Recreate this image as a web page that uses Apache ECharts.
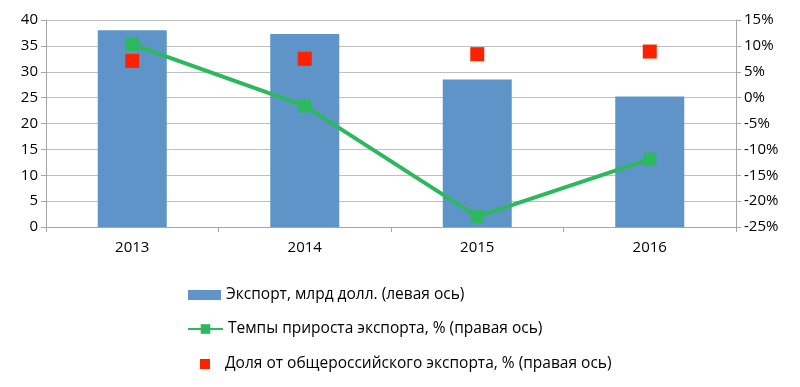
<!DOCTYPE html>
<html><head><meta charset="utf-8">
<script src="https://cdn.jsdelivr.net/npm/echarts@6/dist/echarts.min.js"></script>
<style>html,body{margin:0;padding:0;background:#fff}#c{width:800px;height:387px}</style>
</head><body><div id="c"></div>
<script>
var categories = ['2013', '2014', '2015', '2016'];
var exportValues = [38.0, 37.3, 28.5, 25.2];
var growthRates = [10.3, -1.6, -23.0, -11.9];
var shareValues = [7.1, 7.5, 8.4, 8.9];
var leftTicks = [0, 40, 5];
var rightTicks = [-25, 15, 5];
var names = ['Экспорт, млрд долл. (левая ось)', 'Темпы прироста экспорта, % (правая ось)', 'Доля от общероссийского экспорта, % (правая ось)'];

var font = 'Open Sans';
var chart = echarts.init(document.getElementById('c'));
var axisLine = {show: true, lineStyle: {color: '#a6a6a6', width: 1}};
var legendText = {fontFamily: font, fontSize: 15.5, color: '#000'};
chart.setOption({
  animation: false,
  grid: {left: 46, right: 64, top: 20, bottom: 160},
  legend: [
    {data: [names[0]], left: 188, top: 287, padding: 0, itemWidth: 33, itemHeight: 10, textStyle: legendText, icon: 'rect'},
    {data: [names[1]], left: 187, top: 321, padding: 0, itemWidth: 35, itemHeight: 12, textStyle: legendText},
    {data: [names[2]], left: 200, top: 356, padding: 0, itemWidth: 10, itemHeight: 10, textStyle: Object.assign({padding: [0, 0, 0, 10]}, legendText), icon: 'rect'}
  ],
  xAxis: {
    type: 'category', data: categories,
    axisLine: axisLine,
    axisTick: {show: true, length: 5, lineStyle: {color: '#a6a6a6'}},
    axisLabel: {fontFamily: font, fontSize: 15, color: '#000', margin: 13},
    splitLine: {show: false}
  },
  yAxis: [
    {type: 'value', min: leftTicks[0], max: leftTicks[1], interval: leftTicks[2],
     axisLine: axisLine, axisTick: {show: true, length: 5, lineStyle: {color: '#a6a6a6'}},
     axisLabel: {fontFamily: font, fontSize: 15, color: '#000', margin: 8},
     splitLine: {show: true, lineStyle: {color: '#bfbfbf', width: 1}}},
    {type: 'value', min: rightTicks[0], max: rightTicks[1], interval: rightTicks[2],
     axisLine: axisLine, axisTick: {show: true, length: 5, lineStyle: {color: '#a6a6a6'}},
     axisLabel: {fontFamily: font, fontSize: 15, color: '#000', margin: 8, formatter: '{value}%'},
     splitLine: {show: false}}
  ],
  series: [
    {name: names[0], type: 'bar', data: exportValues, yAxisIndex: 0, barWidth: '40%',
     itemStyle: {color: '#5f94c8'}},
    {name: names[1], type: 'line', data: growthRates, yAxisIndex: 1,
     symbol: 'rect', symbolSize: 13, lineStyle: {color: '#2cb85c', width: 4},
     itemStyle: {color: '#2cb85c'}, z: 5},
    {name: names[2], type: 'scatter', data: shareValues, yAxisIndex: 1,
     symbol: 'rect', symbolSize: 14, itemStyle: {color: '#ff2200', opacity: 1}, z: 4}
  ]
});
</script></body></html>
